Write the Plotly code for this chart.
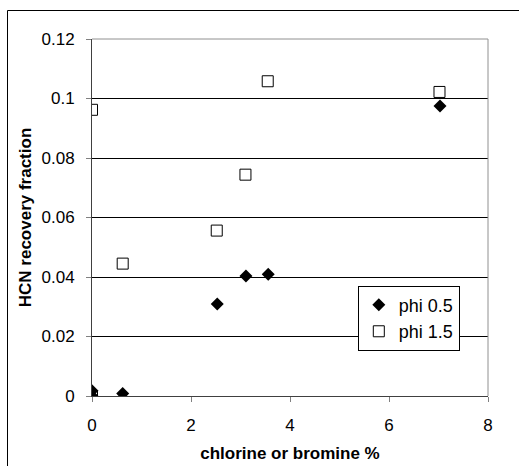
import plotly.graph_objects as go

# Data
phi05_x = [0, 0, 0.62, 2.53, 3.11, 3.56, 7.03]
phi05_y = [0.0018, 0.0, 0.0008, 0.0309, 0.0403, 0.0409, 0.0975]
phi15_x = [0, 0, 0.62, 2.52, 3.10, 3.55, 7.02]
phi15_y = [0.0962, 0.0, 0.0445, 0.0556, 0.0744, 0.1058, 0.1022]
x_ticks = [0, 2, 4, 6, 8]
y_ticks = [0, 0.02, 0.04, 0.06, 0.08, 0.1, 0.12]
y_labels = ["0", "0.02", "0.04", "0.06", "0.08", "0.1", "0.12"]

font = "Liberation Sans, Arial, sans-serif"

fig = go.Figure()
fig.add_trace(go.Scatter(
    x=phi05_x, y=phi05_y, mode="markers", name="phi 0.5",
    marker=dict(symbol="diamond", size=10, color="black",
                line=dict(color="black", width=0)),
))
fig.add_trace(go.Scatter(
    x=phi15_x, y=phi15_y, mode="markers", name="phi 1.5",
    marker=dict(symbol="square-open", size=11, color="black",
                line=dict(color="black", width=1)),
))

W, H = 519, 466
ML, MR, MT, MB = 92, 31, 39, 70
PW, PH = W - ML - MR, H - MT - MB

fig.update_layout(
    width=W, height=H,
    margin=dict(l=ML, r=MR, t=MT, b=MB, autoexpand=False),
    paper_bgcolor="white", plot_bgcolor="white",
    font=dict(family=font, size=17, color="black"),
    showlegend=True,
    legend=dict(
        x=0.80, y=0.218, xanchor="center", yanchor="middle",
        bgcolor="white", bordercolor="black", borderwidth=1,
        font=dict(family=font, size=18, color="black"),
        itemwidth=30,
    ),
    xaxis=dict(
        range=[0, 8], tickvals=x_ticks, ticktext=[str(v) for v in x_ticks],
        automargin=False,
        showgrid=False, zeroline=False,
        showline=True, linecolor="#404040", linewidth=1,
        ticks="outside", ticklen=5, tickcolor="#808080",
        ticklabelstandoff=9,
        tickfont=dict(family=font, size=17),
        title=dict(text="<b>chlorine or bromine %</b>", font=dict(family=font, size=17), standoff=12),
    ),
    yaxis=dict(
        range=[0, 0.12], tickvals=y_ticks, ticktext=y_labels,
        automargin=False,
        showgrid=True, gridcolor="black", gridwidth=1,
        zeroline=False,
        showline=True, linecolor="#404040", linewidth=1,
        ticks="outside", ticklen=5, tickcolor="#808080",
        ticklabelstandoff=8,
        tickfont=dict(family=font, size=17),
        title=dict(text="<b>HCN recovery fraction</b>", font=dict(family=font, size=17), standoff=5),
    ),
    shapes=[
        # gray plot-area border on top and right
        dict(type="line", xref="paper", yref="paper", x0=0, x1=1, y0=1, y1=1,
             line=dict(color="#909090", width=1), layer="above"),
        dict(type="line", xref="paper", yref="paper", x0=1, x1=1, y0=0, y1=1,
             line=dict(color="#909090", width=1), layer="above"),
        # outer chart border
        dict(type="rect", xref="paper", yref="paper",
             x0=-(ML - 7.5) / PW, x1=1.3, y0=-0.4, y1=1 + (MT - 10.5) / PH,
             line=dict(color="black", width=1), layer="below"),
    ],
)

# remove the browser's default 8px body margin so the figure fills the window
fig.write_html("out.html", config={"displayModeBar": False},
               post_script="document.body.style.margin='0';document.body.style.overflow='hidden';")
